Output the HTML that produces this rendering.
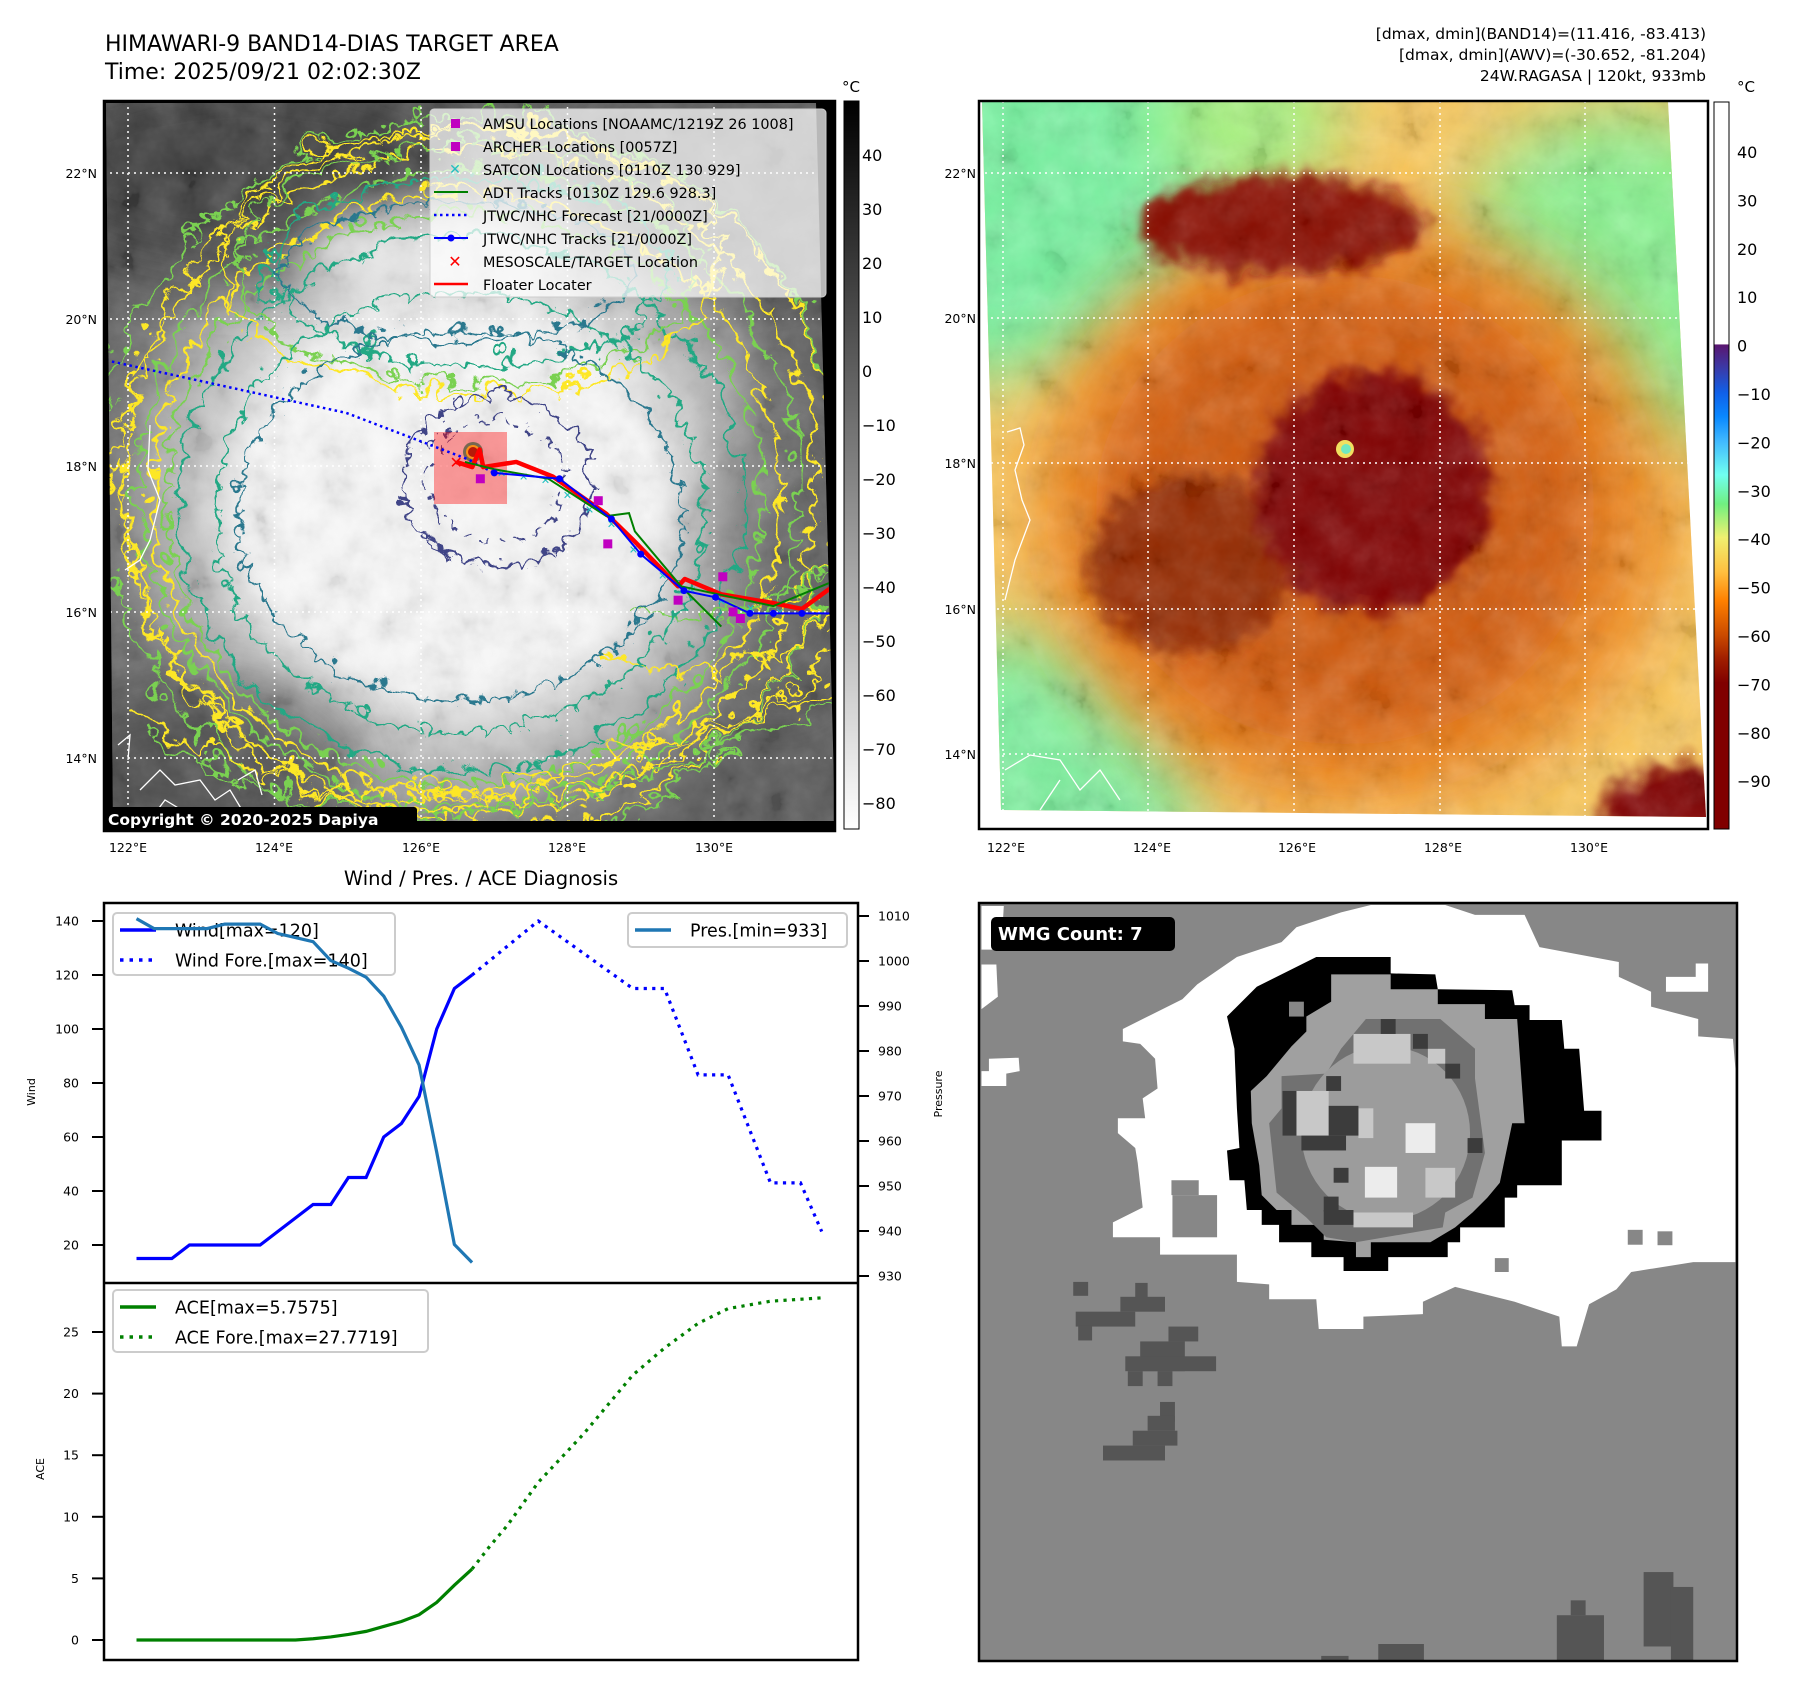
<!DOCTYPE html>
<html><head><meta charset="utf-8"><style>
html,body{margin:0;padding:0;background:#fff;}
svg{display:block;font-family:"DejaVu Sans","Liberation Sans",sans-serif;}
</style></head><body>
<svg id="root" width="1797" height="1690" viewBox="0 0 1797 1690" xmlns="http://www.w3.org/2000/svg">
<defs>
<clipPath id="clipL"><polygon points="106,103 816,103 835,821 113,821"/></clipPath>
<clipPath id="clipR"><polygon points="982,102 1668,102 1706,817 1001,810"/></clipPath>
<clipPath id="frameR"><rect x="979" y="101" width="729" height="728"/></clipPath>
<filter id="wig1" filterUnits="userSpaceOnUse" x="0" y="0" width="1797" height="1000"><feTurbulence type="turbulence" baseFrequency="0.035" numOctaves="2" seed="3"/><feDisplacementMap in="SourceGraphic" scale="32" xChannelSelector="R" yChannelSelector="G"/></filter>
<filter id="wig2" filterUnits="userSpaceOnUse" x="0" y="0" width="1797" height="1000"><feTurbulence type="turbulence" baseFrequency="0.045" numOctaves="2" seed="9"/><feDisplacementMap in="SourceGraphic" scale="26" xChannelSelector="R" yChannelSelector="G"/></filter>
<filter id="wig3" filterUnits="userSpaceOnUse" x="0" y="0" width="1797" height="1000"><feTurbulence type="turbulence" baseFrequency="0.025" numOctaves="3" seed="17"/><feDisplacementMap in="SourceGraphic" scale="45" xChannelSelector="R" yChannelSelector="G"/></filter>
<filter id="noise" filterUnits="userSpaceOnUse" x="0" y="0" width="1797" height="1000"><feTurbulence type="fractalNoise" baseFrequency="0.028" numOctaves="4" seed="5"/><feColorMatrix type="saturate" values="0"/><feComponentTransfer><feFuncR type="linear" slope="2.2" intercept="-0.6"/><feFuncG type="linear" slope="2.2" intercept="-0.6"/><feFuncB type="linear" slope="2.2" intercept="-0.6"/></feComponentTransfer></filter>
<filter id="blur20" filterUnits="userSpaceOnUse" x="0" y="0" width="1797" height="1000"><feGaussianBlur stdDeviation="20"/></filter>
<filter id="blur35" filterUnits="userSpaceOnUse" x="0" y="0" width="1797" height="1000"><feGaussianBlur stdDeviation="35"/></filter>
<filter id="blur10" filterUnits="userSpaceOnUse" x="0" y="0" width="1797" height="1000"><feTurbulence type="fractalNoise" baseFrequency="0.04" numOctaves="2" seed="2" result="t"/><feGaussianBlur in="SourceGraphic" stdDeviation="8" result="b"/><feDisplacementMap in="b" in2="t" scale="30" xChannelSelector="R" yChannelSelector="G"/></filter>
<radialGradient id="grayCore" cx="450" cy="495" r="390" gradientUnits="userSpaceOnUse">
<stop offset="0" stop-color="#f8f8f8"/><stop offset="0.5" stop-color="#f0f0f0"/><stop offset="0.6" stop-color="#d4d4d4"/><stop offset="0.75" stop-color="#a8a8a8"/><stop offset="0.88" stop-color="#727272"/><stop offset="1" stop-color="#5a5a5a"/></radialGradient>
<linearGradient id="cbL" x1="0" y1="0" x2="0" y2="1"><stop offset="0" stop-color="#000"/><stop offset="1" stop-color="#fff"/></linearGradient>
<linearGradient id="cbR" x1="0" y1="0" x2="0" y2="1">
<stop offset="0" stop-color="#fff"/><stop offset="0.333" stop-color="#fff"/><stop offset="0.334" stop-color="#5a1670"/><stop offset="0.366" stop-color="#3a3aa8"/><stop offset="0.4" stop-color="#1060e8"/><stop offset="0.433" stop-color="#0a88ff"/><stop offset="0.466" stop-color="#40b8ff"/><stop offset="0.513" stop-color="#70fff0"/><stop offset="0.553" stop-color="#70f080"/><stop offset="0.599" stop-color="#f0f070"/><stop offset="0.646" stop-color="#ffc040"/><stop offset="0.686" stop-color="#ff8000"/><stop offset="0.732" stop-color="#cc4c00"/><stop offset="0.766" stop-color="#a01e00"/><stop offset="0.799" stop-color="#800000"/><stop offset="1" stop-color="#800000"/></linearGradient>
</defs>

<text x="105" y="51" font-size="22" fill="#000">HIMAWARI-9 BAND14-DIAS TARGET AREA</text>
<text x="105" y="79" font-size="22" fill="#000">Time: 2025/09/21 02:02:30Z</text>
<g font-size="15.5" text-anchor="end" fill="#000">
<text x="1706" y="39">[dmax, dmin](BAND14)=(11.416, -83.413)</text>
<text x="1706" y="60">[dmax, dmin](AWV)=(-30.652, -81.204)</text>
<text x="1706" y="81">24W.RAGASA | 120kt, 933mb</text>
</g>

<g>
<rect x="104" y="101" width="731" height="730" fill="#000"/>
<g clip-path="url(#clipL)">
<rect x="104" y="101" width="735" height="730" fill="url(#grayCore)"/>
<ellipse cx="250" cy="170" rx="240" ry="110" fill="#3a3a3a" filter="url(#blur35)" opacity="0.85"/>
<ellipse cx="720" cy="180" rx="160" ry="90" fill="#5a5a5a" filter="url(#blur35)" opacity="0.7"/>
<ellipse cx="200" cy="770" rx="160" ry="90" fill="#4a4a4a" filter="url(#blur35)" opacity="0.8"/>
<ellipse cx="780" cy="560" rx="70" ry="140" fill="#606060" filter="url(#blur35)" opacity="0.6"/>
<ellipse cx="430" cy="260" rx="130" ry="55" fill="#e6e6e6" filter="url(#blur20)"/>
<ellipse cx="450" cy="505" rx="215" ry="180" fill="#f7f7f7" filter="url(#blur20)"/>
<rect x="104" y="101" width="735" height="730" filter="url(#noise)" opacity="0.22"/>
<g fill="none" stroke-width="3" filter="url(#wig1)">
<ellipse cx="461" cy="474" rx="346" ry="334" stroke="#fde725"/>
<ellipse cx="461" cy="480" rx="330" ry="320" stroke="#7ad151"/>
<ellipse cx="458" cy="486" rx="314" ry="302" stroke="#fde725"/>
<ellipse cx="455" cy="490" rx="298" ry="286" stroke="#7ad151"/>
<ellipse cx="453" cy="495" rx="282" ry="268" stroke="#22a884"/>
</g>
<g fill="none" stroke-width="3" filter="url(#wig3)">
<ellipse cx="470" cy="470" rx="360" ry="352" stroke="#fde725"/>
<ellipse cx="460" cy="470" rx="372" ry="366" stroke="#7ad151"/>
<ellipse cx="460" cy="260" rx="200" ry="95" stroke="#22a884"/>
<ellipse cx="460" cy="255" rx="230" ry="120" stroke="#7ad151"/>
<ellipse cx="460" cy="250" rx="250" ry="135" stroke="#fde725"/>
<path d="M130 700 Q300 830 560 760 T835 640" stroke="#fde725"/>
<path d="M140 720 Q320 850 580 780 T835 670" stroke="#7ad151"/>
<path d="M300 790 Q500 820 700 730 T835 700" stroke="#fde725"/>
<path d="M620 600 Q700 620 835 560" stroke="#7ad151"/>
<path d="M600 640 Q720 700 835 600" stroke="#fde725"/>
</g>
<g fill="none" stroke-width="2.6" filter="url(#wig2)">
<ellipse cx="453" cy="505" rx="245" ry="220" stroke="#22a884"/>
<ellipse cx="453" cy="508" rx="222" ry="185" stroke="#2a788e"/>
<ellipse cx="450" cy="265" rx="175" ry="70" stroke="#2a788e"/>
<ellipse cx="490" cy="475" rx="95" ry="85" stroke="#414487"/>
<ellipse cx="488" cy="475" rx="70" ry="60" stroke="#414487" stroke-dasharray="10 8"/>
</g>
<circle cx="473" cy="452" r="10" fill="#22a884"/>
<circle cx="473" cy="452" r="7" fill="#fde725"/>
<circle cx="473" cy="452" r="5" fill="#8b2a10"/>
<g fill="none" stroke="#fff" stroke-width="1.3">
<path d="M140 790 L160 770 L175 785 L200 780 L215 800 L230 790 L245 815 M118 745 L130 735 L128 760 M150 820 L165 800 L190 815 M238 780 L255 770 L262 795"/>
<path d="M150 425 L148 470 L160 500 L150 540 L140 560 L125 570"/>
</g>
<g stroke="#fff" stroke-width="1.5" stroke-dasharray="2 4">
<line x1="128" y1="101" x2="128" y2="831"/><line x1="274.5" y1="101" x2="274.5" y2="831"/><line x1="421" y1="101" x2="421" y2="831"/><line x1="567.5" y1="101" x2="567.5" y2="831"/><line x1="714" y1="101" x2="714" y2="831"/>
<line x1="104" y1="173" x2="835" y2="173"/><line x1="104" y1="319" x2="835" y2="319"/><line x1="104" y1="466" x2="835" y2="466"/><line x1="104" y1="612" x2="835" y2="612"/><line x1="104" y1="758" x2="835" y2="758"/>
</g>
<rect x="434" y="432" width="73" height="72" fill="#ff0000" opacity="0.38"/>
<g id="tracks"></g>
</g>
<g>
<rect x="430" y="109" width="396" height="188" rx="4" fill="#fff" fill-opacity="0.72" stroke="#ccc"/>
<g font-size="14.4" fill="#000">
<rect x="451" y="119" width="9" height="9" fill="#c000c0"/><text x="483" y="129">AMSU Locations [NOAAMC/1219Z 26 1008]</text>
<rect x="451" y="142" width="9" height="9" fill="#c000c0"/><text x="483" y="152">ARCHER Locations [0057Z]</text>
<text x="455" y="174" fill="#20c0c0" font-size="14" text-anchor="middle">✕</text><text x="483" y="175">SATCON Locations [0110Z 130 929]</text>
<line x1="434" y1="192" x2="468" y2="192" stroke="#008000" stroke-width="2"/><text x="483" y="198">ADT Tracks [0130Z 129.6 928.3]</text>
<line x1="434" y1="215" x2="468" y2="215" stroke="#0000ff" stroke-width="2.5" stroke-dasharray="2.5 3.5"/><text x="483" y="221">JTWC/NHC Forecast [21/0000Z]</text>
<line x1="434" y1="238" x2="468" y2="238" stroke="#0000ff" stroke-width="2"/><circle cx="451" cy="238" r="3.5" fill="#0000ff"/><text x="483" y="244">JTWC/NHC Tracks [21/0000Z]</text>
<text x="455" y="267" fill="#ff0000" font-size="16" font-weight="bold" text-anchor="middle">✕</text><text x="483" y="267">MESOSCALE/TARGET Location</text>
<line x1="434" y1="284" x2="468" y2="284" stroke="#ff0000" stroke-width="2.5"/><text x="483" y="290">Floater Locater</text>
</g></g>
<rect x="104" y="101" width="731" height="730" fill="none" stroke="#000" stroke-width="2.5"/>
<rect x="103" y="807" width="314" height="24" rx="3" fill="#000"/>
<text x="108" y="825" font-size="15.5" font-weight="bold" fill="#fff">Copyright © 2020-2025 Dapiya</text>
</g>
<g font-size="12.5" fill="#000" text-anchor="end">
<text x="97" y="178">22°N</text><text x="97" y="324">20°N</text><text x="97" y="471">18°N</text><text x="97" y="617">16°N</text><text x="97" y="763">14°N</text></g>
<g font-size="12.5" fill="#000" text-anchor="middle">
<text x="128" y="852">122°E</text><text x="274" y="852">124°E</text><text x="421" y="852">126°E</text><text x="567" y="852">128°E</text><text x="714" y="852">130°E</text></g>
<g>
<rect x="844" y="101" width="15" height="728" fill="url(#cbL)" stroke="#000" stroke-width="1"/>
<text x="851" y="92" font-size="15" text-anchor="middle">°C</text>
<g id="cbLticks" font-size="16" fill="#000"></g>
</g>

<g>
<g clip-path="url(#frameR)"><g clip-path="url(#clipR)">
<rect x="979" y="101" width="740" height="730" fill="#f8c860"/>
<circle cx="990" cy="110" r="270" fill="#78f0a0" filter="url(#blur35)"/>
<circle cx="1620" cy="280" r="170" fill="#88f090" filter="url(#blur35)"/>
<circle cx="1030" cy="800" r="170" fill="#80f0a0" filter="url(#blur35)"/>
<circle cx="1250" cy="120" r="90" fill="#a8f080" filter="url(#blur35)"/>
<ellipse cx="1355" cy="510" rx="320" ry="300" fill="#f08a20" filter="url(#blur35)"/>
<ellipse cx="1345" cy="510" rx="250" ry="235" fill="#d05a08" filter="url(#blur35)"/>
<ellipse cx="1280" cy="225" rx="145" ry="50" fill="#8a0c00" filter="url(#blur10)"/>
<ellipse cx="1190" cy="565" rx="100" ry="90" fill="#952a00" filter="url(#blur10)"/>
<ellipse cx="1372" cy="492" rx="118" ry="122" fill="#800000" filter="url(#blur10)"/>
<ellipse cx="1375" cy="495" rx="95" ry="100" fill="#800000"/>
<ellipse cx="1690" cy="810" rx="90" ry="45" fill="#800000" filter="url(#blur10)"/>
<rect x="979" y="101" width="740" height="730" filter="url(#noise)" opacity="0.22"/>
<circle cx="1345" cy="449" r="9" fill="#f0e060"/><circle cx="1346" cy="449" r="5" fill="#70e8c0"/>
<g fill="none" stroke="#fff" stroke-width="1.3">
<path d="M1007 432 L1020 428 L1024 445 L1015 470 L1022 500 L1030 520 L1015 560 L1005 600"/>
<path d="M1005 770 L1030 755 L1060 760 L1080 790 L1100 770 L1120 800 M1040 810 L1060 780"/>
</g>
</g>
<g stroke="#fff" stroke-width="1.5" stroke-dasharray="2 4">
<line x1="1003" y1="101" x2="1003" y2="829"/><line x1="1148" y1="101" x2="1148" y2="829"/><line x1="1294" y1="101" x2="1294" y2="829"/><line x1="1440" y1="101" x2="1440" y2="829"/><line x1="1585" y1="101" x2="1585" y2="829"/>
<line x1="979" y1="173" x2="1708" y2="173"/><line x1="979" y1="318" x2="1708" y2="318"/><line x1="979" y1="463" x2="1708" y2="463"/><line x1="979" y1="609" x2="1708" y2="609"/><line x1="979" y1="754" x2="1708" y2="754"/>
</g></g>
<rect x="979" y="101" width="729" height="728" fill="none" stroke="#000" stroke-width="2.5"/>
</g>
<g font-size="12.5" fill="#000" text-anchor="end">
<text x="976" y="178">22°N</text><text x="976" y="323">20°N</text><text x="976" y="468">18°N</text><text x="976" y="614">16°N</text><text x="976" y="759">14°N</text></g>
<g font-size="12.5" fill="#000" text-anchor="middle">
<text x="1006" y="852">122°E</text><text x="1152" y="852">124°E</text><text x="1297" y="852">126°E</text><text x="1443" y="852">128°E</text><text x="1589" y="852">130°E</text></g>
<g>
<rect x="1714" y="102" width="15" height="727" fill="url(#cbR)" stroke="#000" stroke-width="1"/>
<text x="1737" y="92" font-size="15">°C</text>
<g id="cbRticks" font-size="16" fill="#000"></g>
</g>

<text x="481" y="885" font-size="19.5" text-anchor="middle">Wind / Pres. / ACE Diagnosis</text>
<g id="chart"></g>
<text transform="translate(35,1092) rotate(-90)" font-size="11" text-anchor="middle">Wind</text>
<text transform="translate(942,1094) rotate(-90)" font-size="11" text-anchor="middle">Pressure</text>
<text transform="translate(44,1469) rotate(-90)" font-size="11" text-anchor="middle">ACE</text>

<g>
<g transform="translate(979,900) scale(0.496)">
<rect x="0" y="6" width="1530" height="1528" fill="#878787"/>
<polygon fill="#fff" points="290,260 350,230 410,200 440,170 520,115 610,85 640,55 730,25 790,10 940,10 1000,30 1100,30 1130,95 1290,125 1290,155 1355,185 1355,215 1450,240 1450,275 1520,280 1525,340 1525,730 1440,730 1315,750 1285,785 1230,815 1205,900 1175,900 1170,840 1080,810 960,780 895,810 895,835 775,840 775,865 685,865 680,805 585,805 585,775 520,770 520,715 365,715 365,680 270,680 270,650 330,620 320,530 315,500 280,470 280,440 335,440 330,400 360,380 355,320 325,290 290,285"/>
<polygon fill="#fff" points="5,12 50,12 45,100 5,100"/>
<polygon fill="#fff" points="5,130 35,130 38,195 5,220"/>
<polygon fill="#fff" points="20,320 80,318 82,345 55,350 55,375 5,375 5,345 20,345"/>
<polygon fill="#fff" points="1385,155 1445,155 1445,128 1470,128 1470,185 1385,185"/>
<rect x="388" y="565" width="55" height="30" fill="#878787"/><rect x="390" y="595" width="90" height="85" fill="#878787"/>
<rect x="1308" y="665" width="30" height="30" fill="#878787"/><rect x="1368" y="668" width="30" height="28" fill="#878787"/><rect x="1040" y="722" width="28" height="28" fill="#878787"/>
<polygon fill="#000" points="500,235 530,205 560,175 620,145 680,115 830,115 830,148 920,150 925,180 1075,182 1080,212 1110,212 1110,242 1175,242 1180,300 1210,300 1220,425 1255,425 1255,485 1175,485 1175,575 1085,575 1085,600 1060,600 1060,660 970,660 970,690 945,690 945,720 825,720 825,748 735,748 735,720 670,720 670,690 605,690 605,655 570,655 570,625 540,625 535,565 505,565 500,505 525,500 520,420 515,300"/>
<polygon fill="#a0a0a0" points="548,385 580,355 605,325 630,295 660,265 660,235 710,205 710,150 830,150 830,180 925,180 925,210 1020,210 1020,240 1085,240 1100,450 1075,450 1050,570 1025,600 995,630 960,660 910,690 790,690 790,720 760,720 760,690 695,685 695,655 630,655 630,625 600,625 570,595 565,535 550,450"/>
<rect x="625" y="205" width="30" height="30" fill="#878787"/>
<polygon fill="#717171" points="610,355 700,350 730,300 780,240 930,240 965,270 1000,300 1000,360 1020,510 995,600 940,630 935,660 760,690 700,680 660,640 600,590 585,450 610,420"/>
<ellipse cx="820" cy="470" rx="170" ry="175" fill="#9c9c9c"/>
<g fill="#c8c8c8"><rect x="640" y="385" width="65" height="90"/><rect x="755" y="270" width="115" height="60"/><rect x="905" y="300" width="35" height="30"/><rect x="765" y="420" width="30" height="60"/><rect x="900" y="540" width="60" height="60"/><rect x="755" y="630" width="120" height="30"/></g>
<g fill="#ececec"><rect x="860" y="450" width="60" height="60"/><rect x="778" y="538" width="65" height="62"/></g>
<g fill="#3c3c3c"><rect x="705" y="415" width="60" height="60"/><rect x="650" y="475" width="90" height="30"/><rect x="612" y="385" width="28" height="90"/><rect x="810" y="240" width="30" height="30"/><rect x="875" y="270" width="30" height="30"/><rect x="940" y="330" width="30" height="30"/><rect x="985" y="480" width="30" height="30"/><rect x="715" y="540" width="30" height="30"/><rect x="695" y="598" width="30" height="30"/><rect x="695" y="625" width="60" height="30"/><rect x="700" y="355" width="30" height="30"/></g>
<g fill="#555"><rect x="190" y="770" width="30" height="28"/><rect x="195" y="830" width="120" height="30"/><rect x="285" y="800" width="90" height="30"/><rect x="315" y="772" width="25" height="30"/><rect x="200" y="858" width="28" height="30"/><rect x="382" y="860" width="60" height="30"/><rect x="325" y="890" width="90" height="60"/><rect x="295" y="920" width="183" height="30"/><rect x="300" y="950" width="30" height="30"/><rect x="360" y="950" width="30" height="30"/><rect x="365" y="1012" width="30" height="40"/><rect x="340" y="1040" width="55" height="30"/><rect x="310" y="1070" width="90" height="30"/><rect x="250" y="1100" width="125" height="30"/><rect x="1340" y="1355" width="60" height="150"/><rect x="1395" y="1385" width="45" height="148"/><rect x="1165" y="1442" width="95" height="92"/><rect x="1193" y="1412" width="30" height="30"/><rect x="805" y="1500" width="92" height="34"/><rect x="690" y="1524" width="55" height="10"/></g>
</g>
<rect x="979" y="903" width="758" height="758" fill="none" stroke="#000" stroke-width="2.5"/>
<rect x="991" y="917" width="184" height="34" rx="5" fill="#000"/>
<text x="998" y="940" font-size="18" font-weight="bold" fill="#fff">WMG Count: 7</text>
</g>
</svg>
<script>
const NS = 'http://www.w3.org/2000/svg';
const obsIdx = [0,1,2,3,4,5,6,7,8,9,10,11,12,13,14,15,16,17,18,19];
const windObs = [15,15,15,20,20,20,20,20,25,30,35,35,45,45,60,65,75,100,115,120];
const presObs = [1009.4,1007.2,1007.2,1007.2,1007.2,1008.2,1008.2,1008.2,1006.1,1005.2,1004.3,1000.1,998.4,996.4,992.2,985.3,976.9,957.5,937,933];
const windFcIdx = [19,22.75,28.1,29.9,31.8,33.5,35.9,37.6,38.8];
const windFc = [120,140,115,115,83,83,43,43,25];
const aceObs = [0,0,0,0,0,0,0,0,0,0,0.1,0.25,0.45,0.7,1.1,1.5,2.05,3.05,4.45,5.76];
const aceFcIdx = [19,20,21,22.75,25.3,28.1,29.9,31.8,33.5,35.9,38.8];
const aceFc = [5.76,7.6,9.3,12.8,16.7,21.5,23.7,25.7,26.9,27.5,27.77];
const windTicks = [20,40,60,80,100,120,140];
const presTicks = [930,940,950,960,970,980,990,1000,1010];
const aceTicks = [0,5,10,15,20,25];
const cbLTicks = [40,30,20,10,0,-10,-20,-30,-40,-50,-60,-70,-80];
const cbRTicks = [40,30,20,10,0,-10,-20,-30,-40,-50,-60,-70,-80,-90];
const fcstLon = [121.7,124.98,126.63,127.0];
const fcstLat = [19.44,18.72,18.09,17.9];
const jtwcLon = [127.0,127.89,128.6,129.0,129.59,130.02,130.49,130.81,131.2,131.69];
const jtwcLat = [17.9,17.82,17.27,16.79,16.29,16.2,15.98,15.98,15.98,15.98];
const floaterLon = [126.48,126.7,126.8,126.85,127.3,127.8,128.53,128.92,129.51,129.6,130.1,130.81,131.2,131.68];
const floaterLat = [18.05,17.98,18.22,17.98,18.05,17.85,17.34,16.96,16.35,16.45,16.24,16.12,16.04,16.39];
const adtLon = [126.6,127.0,127.74,128.53,128.84,128.92,129.55,130.1];
const adtLat = [18.05,17.95,17.82,17.31,17.35,17.1,16.35,15.8];
const adt2Lon = [129.55,130.81,131.68];
const adt2Lat = [16.35,16.08,16.44];
const amsuLon = [126.81,128.42,128.55,129.51,130.12,130.26,130.36];
const amsuLat = [17.82,17.52,16.93,16.16,16.48,16.0,15.91];
const satconLon = [127.1,127.4,127.7,128.0,128.3,128.6,128.9,129.3,129.7,130.1,130.5,130.9];
const satconLat = [17.9,17.85,17.8,17.6,17.4,17.2,16.85,16.5,16.3,16.15,16.05,16.0];
const targetLon = [126.48];
const targetLat = [18.05];

const xI = i => 136.5 + i * 17.66;
const yW = v => 921 + (140 - v) * 2.7;
const yP = p => 916 + (1010 - p) * 4.5;
const yA = a => 1640 - a * 12.32;
const lonX = l => 128 + (l - 122) * 73.25;
const latY = l => 173 + (22 - l) * 73.15;
const yCL = v => 155 + (40 - v) * 5.4;
const yCR = v => 152 + (40 - v) * 4.84;

function mk(tag, attrs, parent) {
  const e = document.createElementNS(NS, tag);
  for (const k in attrs) e.setAttribute(k, attrs[k]);
  parent.appendChild(e);
  return e;
}
function pts(xs, ys, fx, fy) { return xs.map((x, i) => fx(x) + ',' + fy(ys[i])).join(' '); }

const cl = document.getElementById('cbLticks');
cbLTicks.forEach(v => {
  const t = mk('text', {x: 862, y: yCL(v) + 6}, cl);
  t.textContent = v < 0 ? '\u2212' + (-v) : String(v);
  
  
});
const cr = document.getElementById('cbRticks');
cbRTicks.forEach(v => {
  const t = mk('text', {x: 1737, y: yCR(v) + 6}, cr);
  t.textContent = v < 0 ? '\u2212' + (-v) : String(v);
  
  
});

const tr = document.getElementById('tracks');
const fl = mk('polyline', {points: pts(fcstLon, fcstLat, lonX, latY), fill: 'none', stroke: '#0000ff', 'stroke-width': 2.5, 'stroke-dasharray': '2.5 3.5'}, tr);


satconLon.forEach((l, i) => {
  const t = mk('text', {x: lonX(l), y: latY(satconLat[i]) + 4, fill: '#20c0c0', 'font-size': 11, 'text-anchor': 'middle'}, tr);
  t.textContent = '✕';
  
  
});
const fll = mk('polyline', {points: pts(floaterLon, floaterLat, lonX, latY), fill: 'none', stroke: '#ff0000', 'stroke-width': 4.5, 'stroke-linejoin': 'round'}, tr);


const ad = mk('polyline', {points: pts(adtLon, adtLat, lonX, latY), fill: 'none', stroke: '#008000', 'stroke-width': 2}, tr);


const ad2 = mk('polyline', {points: pts(adt2Lon, adt2Lat, lonX, latY), fill: 'none', stroke: '#008000', 'stroke-width': 2}, tr);


const jt = mk('polyline', {points: pts(jtwcLon, jtwcLat, lonX, latY), fill: 'none', stroke: '#0000ff', 'stroke-width': 2}, tr);


jtwcLon.forEach((l, i) => {
  const c = mk('circle', {cx: lonX(l), cy: latY(jtwcLat[i]), r: 3.5, fill: '#0000ff'}, tr);
  
  
});
amsuLon.forEach((l, i) => {
  const r = mk('rect', {x: lonX(l) - 4.5, y: latY(amsuLat[i]) - 4.5, width: 9, height: 9, fill: '#c000c0'}, tr);
  
  
});
targetLon.forEach((l, i) => {
  const t = mk('text', {x: lonX(l), y: latY(targetLat[i]) + 6, fill: '#ff0000', 'font-size': 16, 'font-weight': 'bold', 'text-anchor': 'middle'}, tr);
  t.textContent = '✕';
  
  
});

const ch = document.getElementById('chart');
const lw = mk('polyline', {points: pts(obsIdx, windObs, xI, yW), fill: 'none', stroke: '#0000ff', 'stroke-width': 3.2}, ch);


const lwf = mk('polyline', {points: pts(windFcIdx, windFc, xI, yW), fill: 'none', stroke: '#0000ff', 'stroke-width': 3.2, 'stroke-dasharray': '3.2 5.3'}, ch);


const la = mk('polyline', {points: pts(obsIdx, aceObs, xI, yA), fill: 'none', stroke: '#008000', 'stroke-width': 3.2}, ch);


const laf = mk('polyline', {points: pts(aceFcIdx, aceFc, xI, yA), fill: 'none', stroke: '#008000', 'stroke-width': 3.2, 'stroke-dasharray': '3.2 5.3'}, ch);



windTicks.forEach(v => {
  const g = mk('g', {}, ch);
  
  
  mk('line', {x1: 92, y1: yW(v), x2: 104, y2: yW(v), stroke: '#000', 'stroke-width': 2}, g);
  const t = mk('text', {x: 79, y: yW(v) + 4.5, 'font-size': 12.5, 'text-anchor': 'end'}, g);
  t.textContent = v;
});
aceTicks.forEach(v => {
  const g = mk('g', {}, ch);
  
  
  mk('line', {x1: 92, y1: yA(v), x2: 104, y2: yA(v), stroke: '#000', 'stroke-width': 2}, g);
  const t = mk('text', {x: 79, y: yA(v) + 4.5, 'font-size': 12.5, 'text-anchor': 'end'}, g);
  t.textContent = v;
});
presTicks.forEach(v => {
  const g = mk('g', {}, ch);
  
  
  mk('line', {x1: 858, y1: yP(v), x2: 869, y2: yP(v), stroke: '#000', 'stroke-width': 2}, g);
  const t = mk('text', {x: 878, y: yP(v) + 4.5, 'font-size': 12.5}, g);
  t.textContent = v;
});

mk('rect', {x: 104, y: 903, width: 754, height: 757, fill: 'none', stroke: '#000', 'stroke-width': 2.5}, ch);
mk('line', {x1: 104, y1: 1283, x2: 858, y2: 1283, stroke: '#000', 'stroke-width': 2.5}, ch);

function legend(x, y, w, h, rows, name) {
  const g = mk('g', {}, ch);
  
  
  mk('rect', {x: x, y: y, width: w, height: h, rx: 4, fill: '#fff', 'fill-opacity': 0.8, stroke: '#ccc', 'stroke-width': 2}, g);
  rows.forEach((r, i) => {
    const cy = y + 17 + i * 30;
    const a = {x1: x + 7, y1: cy, x2: x + 43, y2: cy, stroke: r[1], 'stroke-width': 3.5};
    if (r[2]) a['stroke-dasharray'] = '3.5 6';
    mk('line', a, g);
    const t = mk('text', {x: x + 62, y: cy + 6.5, 'font-size': 17.5}, g);
    t.textContent = r[0];
  });
}
legend(113, 913, 282, 62, [['Wind[max=120]', '#0000ff', false], ['Wind Fore.[max=140]', '#0000ff', true]], 'wind-legend');
legend(628, 913, 219, 34, [['Pres.[min=933]', '#1f77b4', false]], 'pressure-legend');
legend(113, 1290, 315, 62, [['ACE[max=5.7575]', '#008000', false], ['ACE Fore.[max=27.7719]', '#008000', true]], 'ace-legend');
// pressure drawn over legend as in reference
const lp = mk('polyline', {points: pts(obsIdx, presObs, xI, yP), fill: 'none', stroke: '#1f77b4', 'stroke-width': 3.2}, ch);


</script>
</body></html>
